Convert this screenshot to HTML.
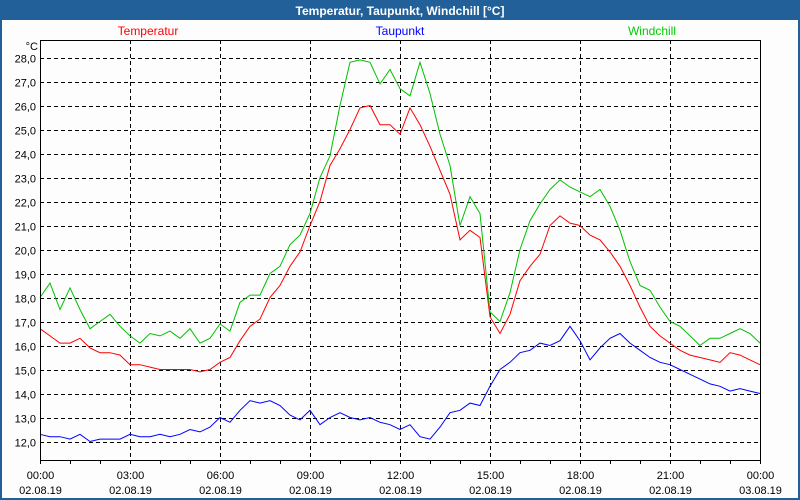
<!DOCTYPE html>
<html><head><meta charset="utf-8"><style>
body{margin:0;background:#fff}
svg{display:block;font-family:"Liberation Sans",sans-serif}
</style></head><body>
<svg id="c" width="800" height="500" viewBox="0 0 800 500">
<rect x="0" y="0" width="800" height="500" fill="#22609a"/>
<rect x="2" y="20" width="796" height="478" fill="#fdfdfd"/>
<text x="400" y="15" text-anchor="middle" font-size="12" font-weight="bold" fill="#fff">Temperatur, Taupunkt, Windchill [°C]</text>
<text x="148" y="35" text-anchor="middle" font-size="12" fill="#ff0000">Temperatur</text>
<text x="400" y="35" text-anchor="middle" font-size="12" fill="#0000ff">Taupunkt</text>
<text x="652" y="35" text-anchor="middle" font-size="12" fill="#00cc00">Windchill</text>
<text x="38" y="50" text-anchor="end" font-size="11" fill="#000">°C</text>
<g id="grid" shape-rendering="crispEdges"></g><g id="series"></g>
<rect x="40.5" y="40.5" width="720" height="420" fill="none" stroke="#000" stroke-width="1" shape-rendering="crispEdges"/>
</svg>
<script>
const yTicks=[12,13,14,15,16,17,18,19,20,21,22,23,24,25,26,27,28];
const xTickTimes=["00:00","03:00","06:00","09:00","12:00","15:00","18:00","21:00","00:00"];
const xTickDates=["02.08.19","02.08.19","02.08.19","02.08.19","02.08.19","02.08.19","02.08.19","02.08.19","03.08.19"];
const temperatur=[16.7,16.4,16.1,16.1,16.3,15.9,15.7,15.7,15.6,15.2,15.2,15.1,15.0,15.0,15.0,15.0,14.9,15.0,15.3,15.5,16.2,16.8,17.1,18.0,18.5,19.3,19.9,21.0,22.0,23.5,24.2,25.0,25.9,26.0,25.2,25.2,24.8,25.9,25.2,24.3,23.3,22.3,20.4,20.8,20.5,17.2,16.5,17.3,18.7,19.3,19.8,21.0,21.4,21.1,21.0,20.6,20.4,19.9,19.3,18.5,17.6,16.8,16.4,16.1,15.8,15.6,15.5,15.4,15.3,15.7,15.6,15.4,15.2];
const windchill=[18.0,18.6,17.5,18.4,17.5,16.7,17.0,17.3,16.8,16.4,16.1,16.5,16.4,16.6,16.3,16.7,16.1,16.3,16.9,16.6,17.8,18.1,18.1,19.0,19.3,20.2,20.6,21.5,23.0,23.9,26.0,27.8,27.9,27.8,26.9,27.5,26.7,26.4,27.8,26.5,24.8,23.5,21.0,22.2,21.5,17.4,17.0,18.2,20.0,21.2,21.9,22.5,22.9,22.6,22.4,22.2,22.5,21.8,20.8,19.5,18.5,18.3,17.6,17.0,16.8,16.4,16.0,16.3,16.3,16.5,16.7,16.5,16.1];
const taupunkt=[12.3,12.2,12.2,12.1,12.3,12.0,12.1,12.1,12.1,12.3,12.2,12.2,12.3,12.2,12.3,12.5,12.4,12.6,13.0,12.8,13.3,13.7,13.6,13.7,13.5,13.1,12.9,13.3,12.7,13.0,13.2,13.0,12.9,13.0,12.8,12.7,12.5,12.7,12.2,12.1,12.6,13.2,13.3,13.6,13.5,14.3,15.0,15.3,15.7,15.8,16.1,16.0,16.2,16.8,16.2,15.4,15.9,16.3,16.5,16.1,15.8,15.5,15.3,15.2,15.0,14.8,14.6,14.4,14.3,14.1,14.2,14.1,14.0];
const NS="http://www.w3.org/2000/svg";
const X0=40,X1=760;
function yS(v){return 57.5+(28-v)*24;}
function xS(i,n){return X0+(X1-X0)*i/(n-1);}
const grid=document.getElementById('grid');
yTicks.forEach(v=>{
 const y=Math.round(yS(v))+0.5;
 const l=document.createElementNS(NS,'line');
 
 
 l.setAttribute('x1',X0);l.setAttribute('x2',X1);l.setAttribute('y1',y);l.setAttribute('y2',y);
 l.setAttribute('stroke','#000');l.setAttribute('stroke-dasharray','4,3');
 grid.appendChild(l);
 const t=document.createElementNS(NS,'text');
 
 
 t.setAttribute('x',36);t.setAttribute('y',y+4);t.setAttribute('text-anchor','end');t.setAttribute('font-size','11');
 t.textContent=v.toFixed(1).replace('.',',');
 grid.appendChild(t);
});
xTickTimes.forEach((s,i)=>{
 const x=X0+90*i+0.5;
 if(i>0&&i<xTickTimes.length-1){
  const l=document.createElementNS(NS,'line');
  
  
  l.setAttribute('x1',x);l.setAttribute('x2',x);l.setAttribute('y1',40);l.setAttribute('y2',460);
  l.setAttribute('stroke','#000');l.setAttribute('stroke-dasharray','4,3');
  grid.appendChild(l);
 }
 const t=document.createElementNS(NS,'text');
 
 
 t.setAttribute('x',x);t.setAttribute('y',479);t.setAttribute('text-anchor','middle');t.setAttribute('font-size','11');
 t.textContent=s;grid.appendChild(t);
 const d=document.createElementNS(NS,'text');
 
 
 d.setAttribute('x',x);d.setAttribute('y',494);d.setAttribute('text-anchor','middle');d.setAttribute('font-size','11');
 d.textContent=xTickDates[i];grid.appendChild(d);
});
for(let h=0;h<=24;h++){
 const x=X0+30*h+0.5;
 const l=document.createElementNS(NS,'line');
 
 
 l.setAttribute('x1',x);l.setAttribute('x2',x);l.setAttribute('y1',460);l.setAttribute('y2',464);
 l.setAttribute('stroke','#000');grid.appendChild(l);
}
const ser=document.getElementById('series');
function draw(arr,color,name){
 const p=document.createElementNS(NS,'polyline');
 
 
 p.setAttribute('points',arr.map((v,i)=>xS(i,arr.length).toFixed(1)+','+yS(v).toFixed(1)).join(' '));
 p.setAttribute('fill','none');p.setAttribute('stroke',color);p.setAttribute('stroke-width','1');
 ser.appendChild(p);
}
draw(taupunkt,'#0000ff','taupunkt-line');
draw(temperatur,'#ff0000','temperatur-line');
draw(windchill,'#00c000','windchill-line');
</script>
</body></html>
